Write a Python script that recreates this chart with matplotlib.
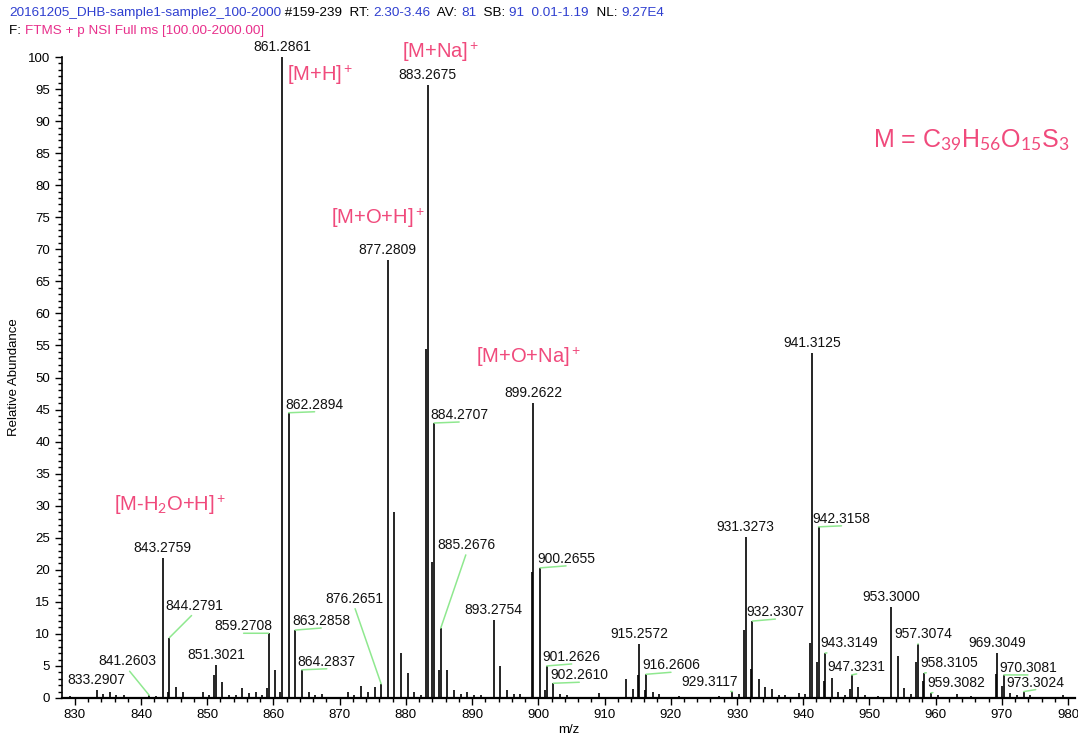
import matplotlib
matplotlib.use('Agg')
import matplotlib.pyplot as plt
import numpy as np

plt.rcParams['font.family'] = ['Liberation Sans', 'DejaVu Sans']
plt.rcParams['mathtext.fontset'] = 'custom'
plt.rcParams['mathtext.rm'] = 'Lato'
plt.rcParams['mathtext.it'] = 'Lato:italic'
plt.rcParams['mathtext.bf'] = 'Lato:bold'

# labelled peaks: m/z text and relative abundance
label_mz = ['833.2907', '841.2603', '843.2759', '844.2791', '851.3021', '859.2708',
            '861.2861', '862.2894', '863.2858', '864.2837', '876.2651', '877.2809',
            '883.2675', '884.2707', '885.2676', '893.2754', '899.2622', '900.2655',
            '901.2626', '902.2610', '915.2572', '916.2606', '929.3117', '931.3273',
            '932.3307', '941.3125', '942.3158', '943.3149', '947.3231', '953.3000',
            '957.3074', '958.3105', '959.3082', '969.3049', '970.3081', '973.3024']
label_int = [1.2, 0.4, 21.8, 9.4, 5.1, 10.1,
             100.0, 44.5, 10.6, 4.4, 2.2, 68.4,
             95.6, 42.9, 10.9, 12.1, 46.0, 20.3,
             5.0, 2.3, 8.4, 3.7, 1.0, 25.1,
             12.0, 53.8, 26.7, 7.0, 3.6, 14.2,
             8.4, 3.9, 0.8, 7.0, 3.6, 1.0]

# unlabelled peaks
other_mz = [829.3, 834.2, 835.3, 836.3, 837.4, 842.3, 844.05, 845.3, 846.3, 849.3,
            850.3, 851.05, 852.3, 853.3, 854.3, 855.3, 856.3, 857.3, 858.3, 859.05,
            860.3, 861.05, 865.3, 866.3, 867.3, 871.2, 872.2, 873.2, 874.3, 875.3,
            878.28, 879.28, 880.28, 881.3, 882.3, 883.0, 884.0, 885.05, 886.27, 887.3,
            888.3, 889.3, 890.3, 891.3, 894.28, 895.3, 896.3, 897.3, 899.0, 901.0,
            903.3, 904.3, 909.2, 913.25, 914.25, 915.05, 916.05, 917.3, 918.3, 921.3,
            927.3, 930.3, 931.1, 932.1, 933.3, 934.3, 935.3, 936.3, 937.3, 939.3,
            940.3, 941.1, 942.1, 943.1, 944.3, 945.3, 946.3, 947.1, 948.3, 949.3,
            951.3, 954.3, 955.3, 956.3, 957.1, 958.1, 960.3, 963.3, 965.3, 969.1,
            970.1, 971.3, 972.3, 974.3, 979.3]
other_int = [0.3, 0.6, 0.9, 0.5, 0.4, 0.3, 1.0, 1.7, 1.0, 1.0,
             0.5, 3.6, 2.5, 0.5, 0.5, 1.5, 0.8, 0.9, 0.4, 1.6,
             4.4, 0.9, 1.0, 0.5, 0.6, 1.0, 0.5, 1.8, 1.0, 1.7,
             29.0, 7.0, 3.9, 0.9, 0.5, 54.4, 21.2, 4.4, 4.4, 1.2,
             0.6, 0.9, 0.5, 0.5, 5.0, 1.3, 0.6, 0.6, 19.6, 1.2,
             0.6, 0.4, 0.8, 3.0, 1.4, 3.6, 1.3, 1.0, 0.6, 0.3,
             0.3, 0.6, 10.6, 4.5, 2.9, 1.7, 1.4, 0.5, 0.4, 0.8,
             0.6, 8.6, 5.6, 2.7, 3.1, 1.0, 0.4, 1.4, 1.7, 0.5,
             0.3, 6.5, 1.6, 0.7, 5.6, 2.6, 0.4, 0.7, 0.3, 3.7,
             1.9, 0.8, 0.4, 0.5, 0.5]

# ion assignments
ion_names = [r'[M-H$_2$O+H]$^+$', r'[M+H]$^+$', r'[M+Na]$^+$', r'[M+O+H]$^+$', r'[M+O+Na]$^+$']
ion_xy = [(170, 505), (320, 75), (441, 52), (378, 218), (528, 357)]  # pixel centres
formula = r'M = C$_{39}$H$_{56}$O$_{15}$S$_3$'

# label text offsets from the peak top, in pixels (dx right, dy up)
label_offsets = {
    '841.2603': (-22, 34), '844.2791': (25, 32), '859.2708': (-25, 7),
    '862.2894': (26, 8), '863.2858': (26, 9), '864.2837': (25, 8),
    '876.2651': (-27, 85), '884.2707': (25, 8), '885.2676': (26, 83),
    '900.2655': (26, 9), '901.2626': (25, 9), '902.2610': (26, 8),
    '916.2606': (25, 9), '929.3117': (-23, 10), '932.3307': (23, 9),
    '942.3158': (23, 8), '943.3149': (24, 10), '947.3231': (5, 8),
    '957.3074': (6, 10), '958.3105': (25, 10), '959.3082': (25, 10),
    '970.3081': (24, 7), '973.3024': (12, 9),
}

W, H = 1078, 740
fig = plt.figure(figsize=(W / 100, H / 100), dpi=100)
ax = fig.add_axes([62 / W, 42 / H, (1075 - 62) / W, (698 - 57) / H])

mz = np.concatenate([[float(s) for s in label_mz], other_mz])
inten = np.concatenate([label_int, other_int])
ax.vlines(mz, 0, inten, color='black', lw=1.2)

ax.set_xlim(828.07, 981.05)
ax.set_ylim(0, 100)
ax.set_xticks(np.arange(830, 981, 10))
ax.set_xticks(np.arange(830, 981, 2), minor=True)
ax.set_yticks(np.arange(0, 101, 5))
ax.set_yticks(np.arange(0, 101, 1), minor=True)
ax.tick_params(which='major', length=5, width=1, labelsize=9.5, direction='out')
ax.tick_params(which='minor', length=3, width=1, direction='out')
ax.tick_params(axis='x', pad=3)
for side in ['top', 'right']:
    ax.spines[side].set_visible(False)
ax.spines['left'].set_linewidth(1.2)
ax.spines['bottom'].set_linewidth(1.6)
ax.set_xlabel('m/z', fontsize=9.5, labelpad=2)
ax.set_ylabel('Relative Abundance', fontsize=9.5, labelpad=6)

green = '#8fe88f'
px2pt = 72 / 100
for s, h in zip(label_mz, label_int):
    dx, dy = label_offsets.get(s, (0, 10))
    kw = {}
    if s in label_offsets:
        kw['arrowprops'] = dict(arrowstyle='-', color=green, lw=1.1,
                                shrinkA=0, shrinkB=0, relpos=(0.5, 0))
    ax.annotate(s, (float(s), h), xytext=(dx * px2pt, dy * px2pt),
                textcoords='offset points', ha='center', va='center',
                fontsize=10, color='#111111', annotation_clip=False, **kw)

pink = '#f04a7c'
for name, (x, y) in zip(ion_names, ion_xy):
    fig.text(x / W, 1 - y / H, name, color=pink, fontsize=14.5,
             ha='center', va='center')
fig.text(1070 / W, 1 - 140 / H, formula, color=pink, fontsize=18,
         ha='right', va='center')

# header lines, drawn piece by piece in their own colours
blue = '#2f3fd0'
header = [
    [('20161205_DHB-sample1-sample2_100-2000', blue), (' #159-239  RT: ', 'black'),
     ('2.30-3.46', blue), ('  AV: ', 'black'), ('81', blue), ('  SB: ', 'black'),
     ('91  0.01-1.19', blue), ('  NL: ', 'black'), ('9.27E4', blue)],
    [('F: ', 'black'), ('FTMS + p NSI Full ms [100.00-2000.00]', '#e8308c')],
]
renderer = fig.canvas.get_renderer()
for row, y in zip(header, [13, 31]):
    x = 9
    for txt, col in row:
        t = fig.text(x / W, 1 - y / H, txt, color=col, fontsize=9.7, va='center')
        x += t.get_window_extent(renderer).width

fig.savefig('out.png', dpi=100)
